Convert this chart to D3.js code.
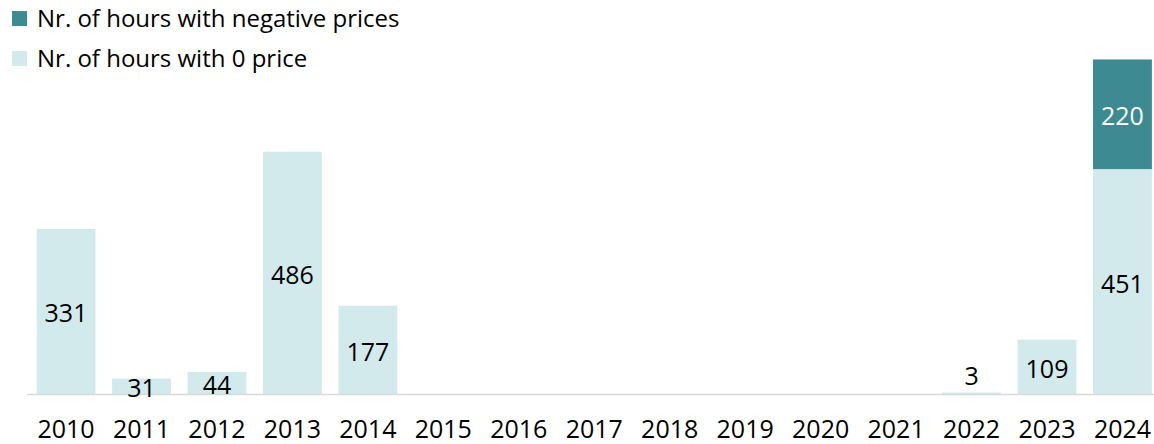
<!DOCTYPE html>
<html>
<head>
<meta charset="utf-8">
<script src="https://cdn.jsdelivr.net/npm/d3@7"></script>
<style>
  body { margin: 0; background: #fff; }
  svg { display: block; font-family: "Open Sans", sans-serif; }
</style>
</head>
<body>
<svg id="chart" width="1154" height="444"></svg>
<script>
// data
const years = ["2010", "2011", "2012", "2013", "2014", "2015", "2016", "2017",
               "2018", "2019", "2020", "2021", "2022", "2023", "2024"];
const zeroHours = [331, 31, 44, 486, 177, 0, 0, 0, 0, 0, 0, 0, 3, 109, 451];
const negHours  = [0, 0, 0, 0, 0, 0, 0, 0, 0, 0, 0, 0, 0, 0, 220];
const seriesNames = ["Nr. of hours with negative prices", "Nr. of hours with 0 price"];

const colors = { neg: "#3d8a92", zero: "#d3eaed" };

const svg = d3.select("#chart");
const baseY = 394;

const x = d3.scaleBand()
    .domain(years)
    .range([28.3, 1160.2])
    .paddingInner(0.22)
    .paddingOuter(0.11);

const y = d3.scaleLinear()
    .domain([0, 700])
    .range([baseY, 45]);

const rows = years.map((yr, i) => ({ year: yr, zero: zeroHours[i], neg: negHours[i] }));
const stack = d3.stack().keys(["zero", "neg"])(rows);

// bars
const layers = svg.append("g").selectAll("g")
    .data(stack)
    .join("g")
    .attr("fill", d => colors[d.key]);

layers.selectAll("rect")
    .data(d => d.filter(s => s[1] - s[0] > 0))
    .join("rect")
    .attr("x", s => x(s.data.year))
    .attr("width", x.bandwidth())
    .attr("y", s => y(s[1]))
    .attr("height", s => y(s[0]) - y(s[1]));

// axis line
svg.append("line")
    .attr("x1", 27).attr("x2", 1154)
    .attr("y1", baseY + 0.5).attr("y2", baseY + 0.5)
    .attr("stroke", "#d9d9d9").attr("stroke-width", 1.5);

// year labels
const xAxis = d3.axisBottom(x).tickSize(0).tickPadding(0);
const axisG = svg.append("g")
    .attr("transform", `translate(0,${baseY})`)
    .call(xAxis);
axisG.select(".domain").remove();
axisG.selectAll("text")
    .attr("y", 44).attr("dy", 0)
    .attr("fill", "#000")
    .style("font-size", "25px")
    .style("font-family", "'Open Sans', sans-serif");

// value labels
stack.forEach(layer => {
    svg.append("g").selectAll("text")
        .data(layer.filter(s => s[1] - s[0] > 0))
        .join("text")
        .attr("x", s => x(s.data.year) + x.bandwidth() / 2)
        .attr("y", s => {
            const h = y(s[0]) - y(s[1]);
            if (h < 8) return y(s[1]) - 7.5;
            return (y(s[0]) + y(s[1])) / 2 + 11;
        })
        .attr("text-anchor", "middle")
        .attr("fill", layer.key === "neg" ? "#fff" : "#000")
        .style("font-size", "25px")
        .text(s => s[1] - s[0]);
});

// legend
const legend = svg.append("g");
const legendItems = [
    { name: seriesNames[0], color: colors.neg },
    { name: seriesNames[1], color: colors.zero }
];
legendItems.forEach((d, i) => {
    const g = legend.append("g").attr("transform", `translate(12,${11 + i * 40})`);
    g.append("rect").attr("width", 15).attr("height", 15).attr("fill", d.color);
    g.append("text")
        .attr("x", 25).attr("y", 16)
        .attr("fill", "#000")
        .style("font-size", "24px")
        .text(d.name);
});
</script>
</body>
</html>
